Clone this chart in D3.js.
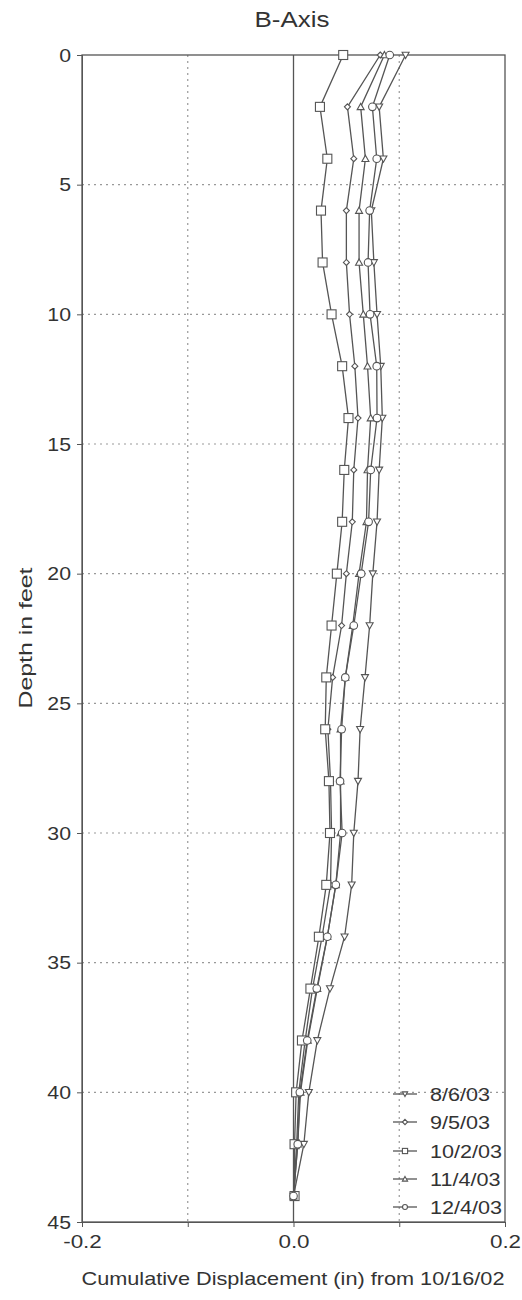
<!DOCTYPE html>
<html><head><meta charset="utf-8">
<script src="https://cdn.jsdelivr.net/npm/d3@7"></script>
<style>body{margin:0;background:#fff}text{font-family:"Liberation Sans",Arial,sans-serif;fill:#333}</style>
</head><body>
<svg id="c" width="522" height="1300"></svg>
<script>
const depths = [0,2,4,6,8,10,12,14,16,18,20,22,24,26,28,30,32,34,36,38,40,42,44];
const seriesNames = ["8/6/03","9/5/03","10/2/03","11/4/03","12/4/03"];
const s0806 = [0.106,0.081,0.085,0.0736,0.076,0.079,0.0825,0.084,0.081,0.079,0.075,0.072,0.0676,0.063,0.061,0.057,0.055,0.0483,0.0345,0.0225,0.0145,0.0098,0.0];
const s0905 = [0.082,0.051,0.057,0.050,0.050,0.053,0.058,0.061,0.057,0.0556,0.050,0.0455,0.037,0.0325,0.035,0.036,0.035,0.027,0.018,0.011,0.005,0.003,0.0];
const s1002 = [0.047,0.025,0.032,0.026,0.0275,0.036,0.046,0.052,0.048,0.046,0.041,0.036,0.031,0.030,0.0335,0.0345,0.031,0.024,0.016,0.008,0.0025,0.001,0.001];
const s1104 = [0.086,0.0635,0.068,0.062,0.062,0.066,0.070,0.073,0.070,0.069,0.062,0.056,0.049,0.0445,0.0445,0.0445,0.040,0.032,0.0225,0.0135,0.0066,0.004,0.0];
const s1204 = [0.091,0.0746,0.0787,0.072,0.0705,0.0724,0.0787,0.079,0.073,0.071,0.064,0.057,0.049,0.0455,0.044,0.046,0.040,0.032,0.022,0.013,0.006,0.004,0.0];
const seriesValues = [s0806,s0905,s1002,s1104,s1204];
const markerTypes = ["tdown","diamond","square","tup","circle"];
const xTicks = [-0.2,-0.1,0.0,0.1,0.2];
const xTickLabels = ["-0.2","","0.0","","0.2"];
const yTicks = [0,5,10,15,20,25,30,35,40,45];

const svg = d3.select("#c");
const L=82,R=505,T=55,B=1222;
const x = d3.scaleLinear().domain([-0.2,0.2]).range([L,R]);
const y = d3.scaleLinear().domain([0,45]).range([T,B]);

function stretch(sel,f){
  sel.each(function(){
    const w=this.getComputedTextLength();
    if(w>0){ d3.select(this).attr("textLength",w*f).attr("lengthAdjust","spacingAndGlyphs"); }
  });
}

// grid
const g = svg.append("g");
g.selectAll(".gx").data([-0.1,0.1]).join("line")
 .attr("x1",d=>x(d)).attr("x2",d=>x(d)).attr("y1",T).attr("y2",B)
 .attr("stroke","#999").attr("stroke-width",1.2).attr("stroke-dasharray","2,4");
g.selectAll(".gy").data(yTicks.filter(d=>d>0&&d<45)).join("line")
 .attr("x1",L).attr("x2",R).attr("y1",d=>y(d)).attr("y2",d=>y(d))
 .attr("stroke","#999").attr("stroke-width",1.2).attr("stroke-dasharray","2,4");
g.append("line").attr("x1",x(0)).attr("x2",x(0)).attr("y1",T).attr("y2",B).attr("stroke","#555").attr("stroke-width",1.3);
g.append("rect").attr("x",L).attr("y",T).attr("width",R-L).attr("height",B-T).attr("fill","none").attr("stroke","#555").attr("stroke-width",1.3);

// axes
const ax = svg.append("g").attr("transform",`translate(0,${B})`)
 .call(d3.axisBottom(x).tickValues(xTicks).tickFormat((d,i)=>xTickLabels[i]).tickSize(5).tickPadding(8));
ax.select(".domain").attr("stroke","#555");
ax.selectAll("line").attr("stroke","#555");
ax.selectAll("text").attr("font-size",19).attr("fill","#333").style("font-family","Liberation Sans, Arial, sans-serif");
stretch(ax.selectAll("text"),1.18);
const ay = svg.append("g").attr("transform",`translate(${L},0)`)
 .call(d3.axisLeft(y).tickValues(yTicks).tickSize(5).tickPadding(6));
ay.select(".domain").attr("stroke","#555");
ay.selectAll("line").attr("stroke","#555");
ay.selectAll("text").attr("font-size",19).attr("fill","#333").style("font-family","Liberation Sans, Arial, sans-serif");
stretch(ay.selectAll("text"),1.12);

// labels
const t1=svg.append("text").attr("x",292).attr("y",27).attr("text-anchor","middle").attr("font-size",22).text("B-Axis");
t1.attr("textLength",75).attr("lengthAdjust","spacingAndGlyphs");
const t2=svg.append("text").attr("transform","translate(32,638) rotate(-90)").attr("text-anchor","middle").attr("font-size",19).text("Depth in feet");
t2.attr("textLength",141).attr("lengthAdjust","spacingAndGlyphs");
const t3=svg.append("text").attr("x",293).attr("y",1285).attr("text-anchor","middle").attr("font-size",19).text("Cumulative Displacement (in) from 10/16/02");
t3.attr("textLength",423).attr("lengthAdjust","spacingAndGlyphs");

function marker(sel,type,cx,cy,s){
  if(type==="circle") sel.append("circle").attr("cx",cx).attr("cy",cy).attr("r",s*0.95);
  else if(type==="square") sel.append("rect").attr("x",cx-s).attr("y",cy-s).attr("width",2*s).attr("height",2*s);
  else if(type==="diamond") sel.append("path").attr("d",`M${cx},${cy-s}L${cx+s},${cy}L${cx},${cy+s}L${cx-s},${cy}Z`);
  else if(type==="tup") sel.append("path").attr("d",`M${cx},${cy-s}L${cx+s},${cy+s*0.8}L${cx-s},${cy+s*0.8}Z`);
  else sel.append("path").attr("d",`M${cx},${cy+s}L${cx+s},${cy-s*0.8}L${cx-s},${cy-s*0.8}Z`);
}
const sizes = [3.5,3,4.5,3.5,4];
const line = d3.line().x(d=>x(d[0])).y(d=>y(d[1]));
seriesValues.forEach((vals,i)=>{
  const pts = vals.map((v,j)=>[v,depths[j]]);
  svg.append("path").datum(pts).attr("d",line).attr("fill","none").attr("stroke","#555").attr("stroke-width",1.3);
});
seriesValues.forEach((vals,i)=>{
  const mg = svg.append("g").attr("fill","#fff").attr("stroke","#555").attr("stroke-width",1.1);
  vals.forEach((v,j)=>marker(mg,markerTypes[i],x(v),y(depths[j]),sizes[i]));
});

// legend
const legY = [1094,1122,1151,1179,1207];
seriesNames.forEach((n,i)=>{
  const lg = svg.append("g");
  lg.append("line").attr("x1",393).attr("x2",417).attr("y1",legY[i]).attr("y2",legY[i]).attr("stroke","#555").attr("stroke-width",1.3);
  const mg = lg.append("g").attr("fill","#fff").attr("stroke","#555").attr("stroke-width",1.1);
  marker(mg,markerTypes[i],405,legY[i],2.6);
  const t=lg.append("text").attr("x",430).attr("y",legY[i]+7).attr("font-size",18).text(n);
  stretch(t,1.2);
});
</script>
</body></html>
